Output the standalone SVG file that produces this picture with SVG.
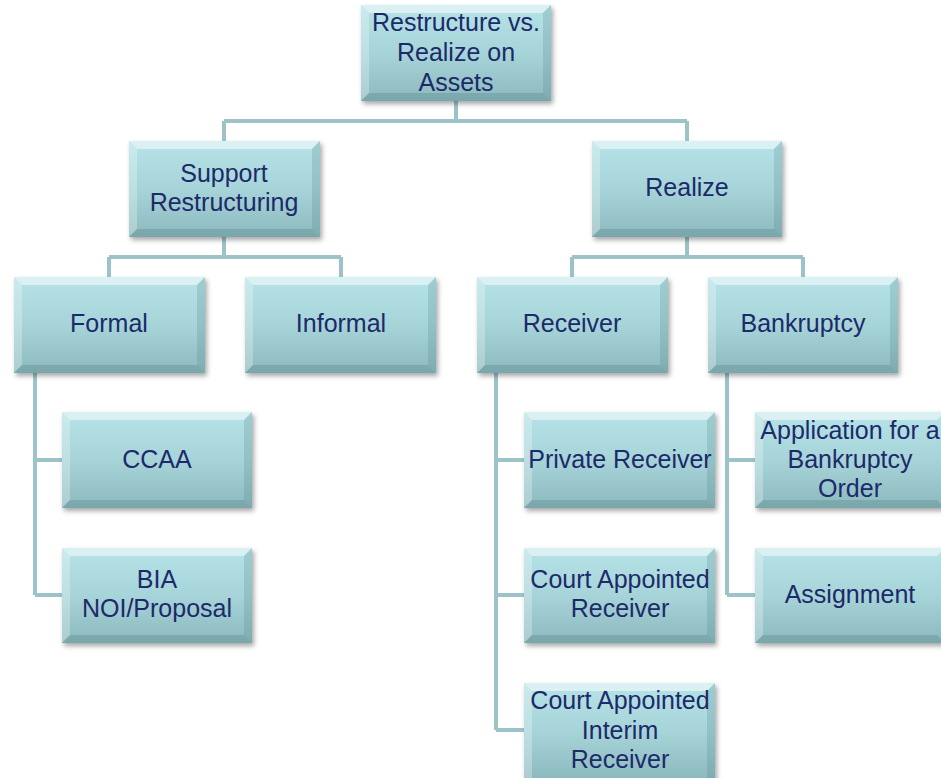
<svg xmlns="http://www.w3.org/2000/svg" width="941" height="778" viewBox="0 0 941 778">
<defs>
<linearGradient id="g" x1="0" y1="0" x2="0" y2="1">
<stop offset="0" stop-color="#b6e3e7"/>
<stop offset="0.5" stop-color="#a6d4d8"/>
<stop offset="1" stop-color="#8cb9bd"/>
</linearGradient>
<filter id="sh" x="-10%" y="-10%" width="125%" height="130%">
<feDropShadow dx="2" dy="3" stdDeviation="2.5" flood-color="#000" flood-opacity="0.35"/>
</filter>
</defs>
<style>
.box{fill:url(#g);filter:url(#sh)}
.hl{fill:#ffffff;fill-opacity:0.5}
.hl2{fill:#ffffff;fill-opacity:0.28}
.dk{fill:#4f7f84;fill-opacity:0.3}
.dk2{fill:#4f7f84;fill-opacity:0.22}
text{font-family:"Liberation Sans",Arial,sans-serif;font-size:25px;fill:#1c2a6a;text-anchor:middle}
.c{fill:none;stroke:#9cc4c8;stroke-width:4}
</style>
<g id="connectors">
<path class="c" d="M456 101V121M224 121H687M224 121V141M687 121V141"/>
<path class="c" d="M224 237V257M109 257H341M109 257V277M341 257V277"/>
<path class="c" d="M687 237V257M572 257H803M572 257V277M803 257V277"/>
<path class="c" d="M35 373V595M35 460H62M35 595H62"/>
<path class="c" d="M496 373V730M496 460H524M496 595H524M496 730H524"/>
<path class="c" d="M727 373V595M727 460H755M727 595H755"/>
</g>
<g id="n-top"><rect class="box" x="361" y="5" width="190" height="96"/><polygon class="hl" points="361,5 551,5 543,13 369,13"/><polygon class="hl2" points="361,5 369,13 369,93 361,101"/><polygon class="dk2" points="551,5 551,101 543,93 543,13"/><polygon class="dk" points="361,101 551,101 543,93 369,93"/><text x="456" y="31">Restructure vs.</text><text x="456" y="61">Realize on</text><text x="456" y="91">Assets</text></g>
<g id="n-support"><rect class="box" x="129" y="141" width="191" height="96"/><polygon class="hl" points="129,141 320,141 312,149 137,149"/><polygon class="hl2" points="129,141 137,149 137,229 129,237"/><polygon class="dk2" points="320,141 320,237 312,229 312,149"/><polygon class="dk" points="129,237 320,237 312,229 137,229"/><text x="224" y="182">Support</text><text x="224" y="211">Restructuring</text></g>
<g id="n-realize"><rect class="box" x="592" y="141" width="190" height="96"/><polygon class="hl" points="592,141 782,141 774,149 600,149"/><polygon class="hl2" points="592,141 600,149 600,229 592,237"/><polygon class="dk2" points="782,141 782,237 774,229 774,149"/><polygon class="dk" points="592,237 782,237 774,229 600,229"/><text x="687" y="196">Realize</text></g>
<g id="n-formal"><rect class="box" x="14" y="277" width="191" height="96"/><polygon class="hl" points="14,277 205,277 197,285 22,285"/><polygon class="hl2" points="14,277 22,285 22,365 14,373"/><polygon class="dk2" points="205,277 205,373 197,365 197,285"/><polygon class="dk" points="14,373 205,373 197,365 22,365"/><text x="109" y="332">Formal</text></g>
<g id="n-informal"><rect class="box" x="245" y="277" width="191" height="96"/><polygon class="hl" points="245,277 436,277 428,285 253,285"/><polygon class="hl2" points="245,277 253,285 253,365 245,373"/><polygon class="dk2" points="436,277 436,373 428,365 428,285"/><polygon class="dk" points="245,373 436,373 428,365 253,365"/><text x="341" y="332">Informal</text></g>
<g id="n-receiver"><rect class="box" x="477" y="277" width="191" height="96"/><polygon class="hl" points="477,277 668,277 660,285 485,285"/><polygon class="hl2" points="477,277 485,285 485,365 477,373"/><polygon class="dk2" points="668,277 668,373 660,365 660,285"/><polygon class="dk" points="477,373 668,373 660,365 485,365"/><text x="572" y="332">Receiver</text></g>
<g id="n-bankruptcy"><rect class="box" x="708" y="277" width="190" height="96"/><polygon class="hl" points="708,277 898,277 890,285 716,285"/><polygon class="hl2" points="708,277 716,285 716,365 708,373"/><polygon class="dk2" points="898,277 898,373 890,365 890,285"/><polygon class="dk" points="708,373 898,373 890,365 716,365"/><text x="803" y="332">Bankruptcy</text></g>
<g id="n-ccaa"><rect class="box" x="62" y="412" width="190" height="96"/><polygon class="hl" points="62,412 252,412 244,420 70,420"/><polygon class="hl2" points="62,412 70,420 70,500 62,508"/><polygon class="dk2" points="252,412 252,508 244,500 244,420"/><polygon class="dk" points="62,508 252,508 244,500 70,500"/><text x="157" y="468">CCAA</text></g>
<g id="n-bia"><rect class="box" x="62" y="548" width="190" height="95"/><polygon class="hl" points="62,548 252,548 244,556 70,556"/><polygon class="hl2" points="62,548 70,556 70,635 62,643"/><polygon class="dk2" points="252,548 252,643 244,635 244,556"/><polygon class="dk" points="62,643 252,643 244,635 70,635"/><text x="157" y="588">BIA</text><text x="157" y="617">NOI/Proposal</text></g>
<g id="n-private"><rect class="box" x="524" y="412" width="191" height="96"/><polygon class="hl" points="524,412 715,412 707,420 532,420"/><polygon class="hl2" points="524,412 532,420 532,500 524,508"/><polygon class="dk2" points="715,412 715,508 707,500 707,420"/><polygon class="dk" points="524,508 715,508 707,500 532,500"/><text x="620" y="468">Private Receiver</text></g>
<g id="n-court"><rect class="box" x="524" y="548" width="191" height="95"/><polygon class="hl" points="524,548 715,548 707,556 532,556"/><polygon class="hl2" points="524,548 532,556 532,635 524,643"/><polygon class="dk2" points="715,548 715,643 707,635 707,556"/><polygon class="dk" points="524,643 715,643 707,635 532,635"/><text x="620" y="588">Court Appointed</text><text x="620" y="617">Receiver</text></g>
<g id="n-interim"><rect class="box" x="524" y="683" width="191" height="97"/><polygon class="hl" points="524,683 715,683 707,691 532,691"/><polygon class="hl2" points="524,683 532,691 532,780 524,780"/><polygon class="dk2" points="715,683 715,780 707,780 707,691"/><text x="620" y="709">Court Appointed</text><text x="620" y="739">Interim</text><text x="620" y="768">Receiver</text></g>
<g id="n-application"><rect class="box" x="755" y="412" width="190" height="96"/><polygon class="hl" points="755,412 945,412 937,420 763,420"/><polygon class="hl2" points="755,412 763,420 763,500 755,508"/><polygon class="dk" points="755,508 945,508 937,500 763,500"/><text x="850" y="439">Application for a</text><text x="850" y="468">Bankruptcy</text><text x="850" y="497">Order</text></g>
<g id="n-assignment"><rect class="box" x="755" y="548" width="190" height="95"/><polygon class="hl" points="755,548 945,548 937,556 763,556"/><polygon class="hl2" points="755,548 763,556 763,635 755,643"/><polygon class="dk" points="755,643 945,643 937,635 763,635"/><text x="850" y="603">Assignment</text></g>
</svg>
